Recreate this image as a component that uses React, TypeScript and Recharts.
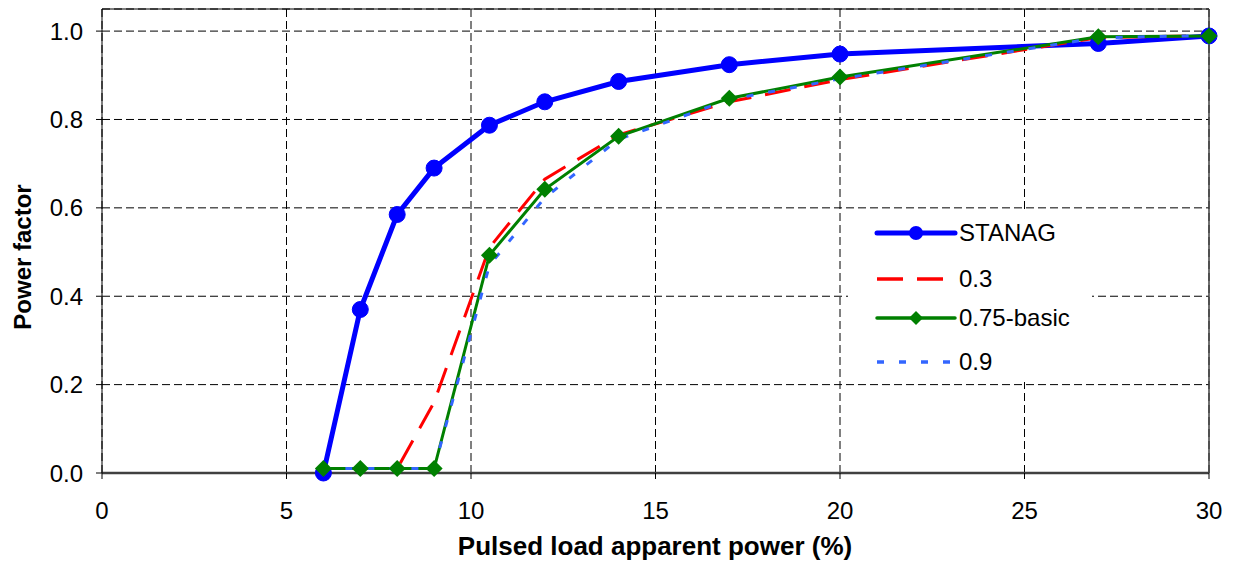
import { LineChart, Line, XAxis, YAxis, CartesianGrid, ReferenceLine } from 'recharts'

// pulsed load apparent power (%) at which each case was evaluated
const loadPct = [6, 7, 8, 9, 10.5, 12, 14, 17, 20, 27, 30]

// power factor per case
const stanag = [0.0, 0.37, 0.585, 0.69, 0.787, 0.84, 0.886, 0.924, 0.948, 0.972, 0.989]
const pf03 = [0.01, 0.01, 0.01, 0.16, 0.51, 0.665, 0.765, 0.84, 0.89, 0.985, 0.99]
const pf075 = [0.01, 0.01, 0.01, 0.01, 0.493, 0.642, 0.762, 0.848, 0.896, 0.987, 0.989]
const pf09 = [0.01, 0.01, 0.01, 0.01, 0.47, 0.623, 0.755, 0.845, 0.892, 0.985, 0.99]

const xTicks = [0, 5, 10, 15, 20, 25, 30]
const yTicks = [0, 0.2, 0.4, 0.6, 0.8, 1.0]

const data = loadPct.map((x, i) => ({
  x,
  stanag: stanag[i],
  pf03: pf03[i],
  pf075: pf075[i],
  pf09: pf09[i],
}))

const FONT = 'Arial, "Liberation Sans", sans-serif'

const series = [
  { key: 'stanag', name: 'STANAG', color: '#0000FF', dash: undefined, marker: 'circle' },
  { key: 'pf03', name: '0.3', color: '#FF0000', dash: '26 14', marker: 'none' },
  { key: 'pf075', name: '0.75-basic', color: '#008000', dash: undefined, marker: 'diamond' },
  { key: 'pf09', name: '0.9', color: '#3366FF', dash: '7 15', marker: 'none' },
]

const Diamond = (props: any) => {
  const { cx, cy } = props
  if (cx == null || cy == null) return null
  const s = 8.5
  return (
    <polygon
      points={`${cx},${cy - s} ${cx + s},${cy} ${cx},${cy + s} ${cx - s},${cy}`}
      fill="#008000"
    />
  )
}

function LegendBox() {
  return (
    <div
      style={{
        position: 'absolute',
        left: 840,
        top: 202,
        width: 244,
        height: 172,
        background: '#fff',
      }}
    >
      {series.map((s, i) => {
        const cy = [23, 69, 108, 152][i]
        return (
          <div key={s.key} style={{ position: 'absolute', left: 0, top: cy - 15, height: 30, width: 244 }}>
            <svg width={110} height={30} style={{ position: 'absolute', left: 0, top: 0 }}>
              <line
                x1={29}
                x2={s.dash ? 105 : 107}
                y1={15}
                y2={15}
                stroke={s.color}
                strokeWidth={s.key === 'stanag' ? 5 : 3.5}
                strokeDasharray={s.dash}
                strokeLinecap={s.dash ? 'butt' : 'round'}
              />
              {s.marker === 'circle' && <circle cx={68} cy={15} r={7} fill={s.color} />}
              {s.marker === 'diamond' && <polygon points="68,8 75,15 68,22 61,15" fill={s.color} />}
            </svg>
            <span
              style={{
                position: 'absolute',
                left: 111,
                top: 0,
                lineHeight: '30px',
                fontSize: 24,
                fontFamily: FONT,
                color: '#000',
                whiteSpace: 'nowrap',
              }}
            >
              {s.name}
            </span>
          </div>
        )
      })}
    </div>
  )
}

export default function App() {
  return (
    <div style={{ position: 'relative', width: 1225, height: 561 }}>
      <LineChart width={1225} height={561} data={data} margin={{ top: 1, right: 24, bottom: 0, left: 14 }}>
        <CartesianGrid stroke="#000" strokeDasharray="8 4" />
        <XAxis
          type="number"
          dataKey="x"
          domain={[0, 30]}
          ticks={xTicks}
          height={96}
          tickSize={6}
          tickMargin={23}
          tick={{ fontSize: 24, fill: '#000', fontFamily: FONT }}
          tickLine={{ stroke: '#000' }}
          axisLine={{ stroke: '#404040', strokeWidth: 2.5 }}
          label={{
            content: () => (
              <text x={647} y={547} textAnchor="middle" fontSize={26} fontWeight="bold" fontFamily={FONT} fill="#000">
                Pulsed load apparent power (%)
              </text>
            ),
          }}
        />
        <YAxis
          type="number"
          domain={[0, 1.05]}
          ticks={yTicks}
          width={80}
          tickSize={6}
          tickMargin={13}
          tickFormatter={(v: number) => v.toFixed(1)}
          tick={{ fontSize: 24, fill: '#000', fontFamily: FONT }}
          tickLine={{ stroke: '#000' }}
          axisLine={{ stroke: '#000' }}
          label={{
            content: () => (
              <text
                x={14}
                y={249}
                transform="rotate(-90 14 249)"
                textAnchor="middle"
                dominantBaseline="central"
                fontSize={24}
                fontWeight="bold"
                fontFamily={FONT}
                fill="#000"
              >
                Power factor
              </text>
            ),
          }}
        />
        <ReferenceLine y={1.05} stroke="#000" strokeWidth={1} />
        <ReferenceLine x={30} stroke="#404040" strokeWidth={1.5} />
        <Line
          type="linear"
          dataKey="stanag"
          name="STANAG"
          stroke="#0000FF"
          strokeWidth={5}
          dot={{ r: 8, fill: '#0000FF', stroke: '#0000FF', strokeWidth: 1 }}
          isAnimationActive={false}
        />
        <Line
          type="linear"
          dataKey="pf03"
          name="0.3"
          stroke="#FF0000"
          strokeWidth={3}
          strokeDasharray="26 14"
          dot={false}
          isAnimationActive={false}
        />
        <Line
          type="linear"
          dataKey="pf075"
          name="0.75-basic"
          stroke="#008000"
          strokeWidth={3}
          dot={<Diamond />}
          isAnimationActive={false}
        />
        <Line
          type="linear"
          dataKey="pf09"
          name="0.9"
          stroke="#3366FF"
          strokeWidth={3}
          strokeDasharray="7 15"
          dot={false}
          isAnimationActive={false}
        />
      </LineChart>
      <LegendBox />
    </div>
  )
}
